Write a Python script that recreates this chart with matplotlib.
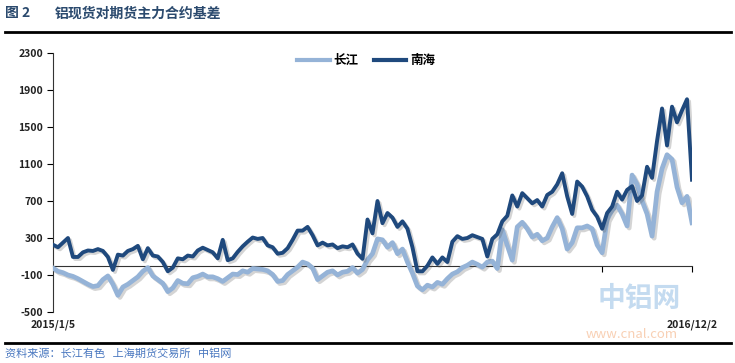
import matplotlib
matplotlib.use('Agg')
import matplotlib.pyplot as plt
import matplotlib.patheffects as pe
import numpy as np

plt.rcParams['font.family'] = ['Noto Sans CJK SC', 'DejaVu Sans']

# basis values (yuan/ton), evenly spaced trading samples
changjiang = [-25, -60, -75, -100, -115, -140, -170, -200, -225, -215,
              -150, -110, -200, -320, -230, -200, -160, -120, -60, -20,
              -110, -150, -190, -280, -240, -160, -190, -195, -130, -115,
              -90, -120, -120, -140, -170, -130, -90, -95, -55, -70,
              -30, -35, -40, -55, -95, -170, -160, -95, -55, -15,
              40, 20, -25, -150, -110, -70, -55, -100, -70, -60,
              -20, -80, -40, 65, 130, 290, 280, 200, 250, 130,
              180, 40, -80, -220, -260, -210, -230, -180, -200, -140,
              -90, -65, -20, 5, 40, 15, -15, 40, 50, -30,
              390, 220, 60, 420, 470, 400, 310, 340, 270, 300,
              420, 520, 400, 180, 250, 410, 410, 430, 400, 225,
              140, 500, 600, 655, 560, 430, 980, 880, 700, 560,
              320, 800, 1050, 1200, 1150, 850, 680, 750, 465]
nanhai = [227, 200, 250, 300, 95, 95, 145, 165, 160, 180,
          160, 95, -45, 120, 110, 160, 180, 215, 70, 190,
          110, 100, 40, -60, -20, 80, 70, 110, 100, 165,
          195, 170, 145, 80, 280, 60, 80, 150, 210, 260,
          305, 290, 300, 220, 200, 130, 140, 190, 280, 380,
          380, 420, 330, 220, 250, 220, 230, 190, 210, 200,
          230, 130, 75, 500, 350, 700, 460, 570, 520, 420,
          480, 400, 200, -60, -60, 0, 90, 20, 90, 40,
          260, 320, 290, 300, 330, 310, 290, 100, 290, 340,
          480, 540, 760, 640, 785, 730, 675, 710, 640, 765,
          800, 880, 1000, 750, 560, 910, 855, 750, 605, 530,
          400, 570, 640, 800, 715, 820, 860, 700, 760, 1070,
          950, 1350, 1700, 1300, 1720, 1550, 1680, 1800, 930]
series_names = ['长江', '南海']
date_labels = ['2015/1/5', '2016/12/2']
yticks = [-500, -100, 300, 700, 1100, 1500, 1900, 2300]

light = '#95b3d7'
dark = '#1f497d'
title_col = '#2b4a6e'

fig = plt.figure(figsize=(7.35, 3.63), dpi=100)
ax = fig.add_axes([0.0721, 0.1405, 0.8694, 0.7135])

x = np.arange(len(nanhai))
shadow = [pe.SimpleLineShadow(offset=(1.5, -1.5), alpha=0.25, shadow_color='#555555'), pe.Normal()]
ax.plot(x, changjiang, color=light, lw=3.4, solid_joinstyle='round',
        path_effects=shadow, label=series_names[0], zorder=3)
ax.plot(x, nanhai, color=dark, lw=2.8, solid_joinstyle='round',
        path_effects=shadow, label=series_names[1], zorder=4)

ax.set_xlim(0, len(nanhai) - 1)
ax.set_ylim(-500, 2300)
ax.set_yticks(yticks)
ax.set_yticklabels([str(v) for v in yticks], fontsize=7.5, fontweight='bold', color='#222222')
ax.tick_params(axis='y', direction='out', length=4, width=0.8, pad=3)

ax.spines['top'].set_visible(False)
ax.spines['right'].set_visible(False)
ax.spines['left'].set_color('#333333')
ax.spines['left'].set_linewidth(0.8)
ax.spines['bottom'].set_position(('data', 0))
ax.spines['bottom'].set_color('#333333')
ax.spines['bottom'].set_linewidth(0.8)
ax.set_xticks([110, len(nanhai) - 1])
ax.set_xticklabels([])
ax.tick_params(axis='x', direction='out', length=4, width=0.8)

ax.text(0, -0.03, date_labels[0], transform=ax.get_xaxis_transform(),
        ha='center', va='top', fontsize=7.5, fontweight='bold', color='#222222')
ax.text(len(nanhai) - 1, -0.03, date_labels[1], transform=ax.get_xaxis_transform(),
        ha='center', va='top', fontsize=7.5, fontweight='bold', color='#222222')

leg = ax.legend(loc='upper center', bbox_to_anchor=(0.49, 1.04), ncol=2, frameon=False,
                handlelength=2.6, columnspacing=1.2, handletextpad=0.3,
                prop={'size': 9, 'weight': 'bold'})
for h in leg.get_lines():
    h.set_linewidth(3)
    h.set_path_effects([])

# title and frame lines
fig.text(0.007, 0.963, '图 2', fontsize=10, fontweight='bold', color=title_col, va='center')
fig.text(0.075, 0.963, '铝现货对期货主力合约基差', fontsize=10, fontweight='bold',
         color=title_col, va='center')
fig.add_artist(plt.Line2D([0.007, 0.995], [0.913, 0.913], color='black', lw=2))
fig.add_artist(plt.Line2D([0.007, 0.995], [0.055, 0.055], color='black', lw=2))
fig.text(0.007, 0.025, '资料来源：长江有色   上海期货交易所   中铝网', fontsize=8,
         color='#4a78c0', va='center')

# watermark
fig.text(0.87, 0.175, '中铝网', fontsize=20, fontweight='bold', color='#9ec3e6',
         alpha=0.6, ha='center', va='center', zorder=0)
fig.text(0.86, 0.078, 'www.cnal.com', fontsize=9.5, color='#f4b183',
         alpha=0.6, ha='center', va='center', zorder=0)

fig.savefig('out.png', dpi=100)
